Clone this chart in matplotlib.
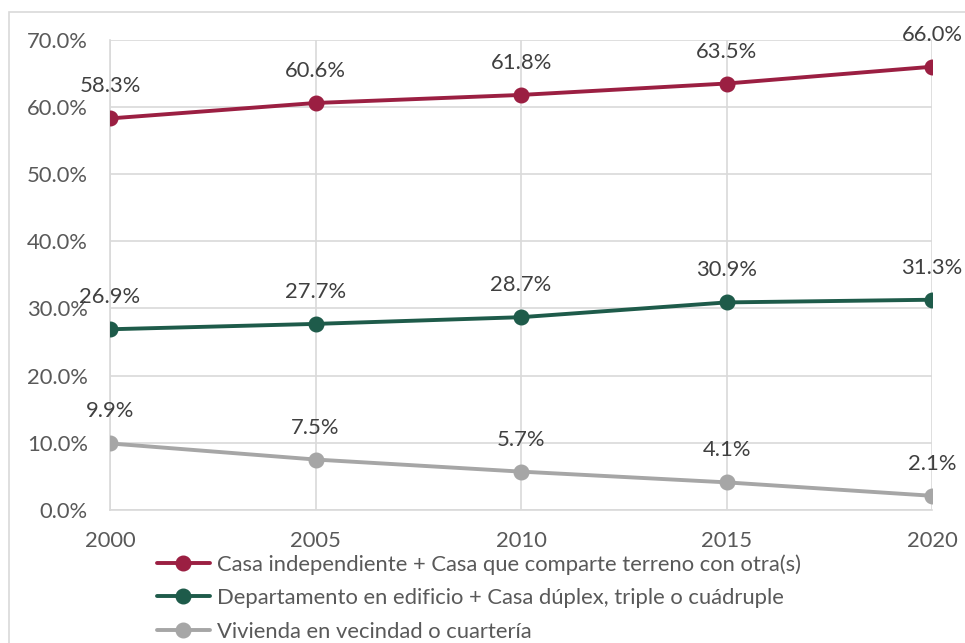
import matplotlib
matplotlib.use("Agg")
import matplotlib.pyplot as plt
from matplotlib.patches import Rectangle
from matplotlib.ticker import FuncFormatter

years = [2000, 2005, 2010, 2015, 2020]
casa = [58.3, 60.6, 61.8, 63.5, 66.0]
depto = [26.9, 27.7, 28.7, 30.9, 31.3]
vivienda = [9.9, 7.5, 5.7, 4.1, 2.1]

labels = [
    "Casa independiente + Casa que comparte terreno con otra(s)",
    "Departamento en edificio + Casa dúplex, triple o cuádruple",
    "Vivienda en vecindad o cuartería",
]
colors = ["#9B1F42", "#1E5B4A", "#A6A6A6"]

plt.rcParams["font.family"] = ["Lato", "DejaVu Sans"]
FS = 15.8

fig = plt.figure(figsize=(9.65, 6.43), dpi=100)
ax = fig.add_axes([0.114, 0.207, 0.852, 0.731])

# light border round the chart area (only top and left show)
fig.patches.append(Rectangle((9 / 965, -0.2), 1.2, 1.2 - 12 / 643,
                             transform=fig.transFigure, fill=False,
                             edgecolor="#D9D9D9", linewidth=1.2))

for vals, lab, c in zip([casa, depto, vivienda], labels, colors):
    ax.plot(years, vals, color=c, linewidth=2.8, marker="o", markersize=10.5,
            label=lab, solid_capstyle="round", zorder=3)
    for x, v in zip(years, vals):
        ax.annotate(f"{v:.1f}%", (x, v), xytext=(0, 23), textcoords="offset points",
                    ha="center", va="center", fontsize=FS, color="#404040", zorder=4)

ax.set_xlim(2000, 2020)
ax.set_ylim(0, 70)
ax.set_xticks(years)
ax.set_yticks(range(0, 71, 10))
ax.yaxis.set_major_formatter(FuncFormatter(lambda v, p: f"{v:.1f}%"))
ax.grid(True, color="#D9D9D9", linewidth=1.2)
ax.set_axisbelow(True)
for s in ["top", "right"]:
    ax.spines[s].set_visible(False)
for s in ["left", "bottom"]:
    ax.spines[s].set_color("#D9D9D9")
    ax.spines[s].set_linewidth(1.2)
ax.tick_params(length=0, labelsize=FS, labelcolor="#595959")
ax.tick_params(axis="x", pad=15)
ax.tick_params(axis="y", pad=16)
for lbl in ax.get_xticklabels():
    lbl.set_clip_on(False)

fig.legend(loc="upper left", bbox_to_anchor=(146 / 965, 1 - 543 / 643),
           frameon=False, fontsize=FS, handlelength=2.4, handletextpad=0.32,
           labelspacing=0.62, borderpad=0, labelcolor="#595959")

fig.savefig("out.png", dpi=100)
